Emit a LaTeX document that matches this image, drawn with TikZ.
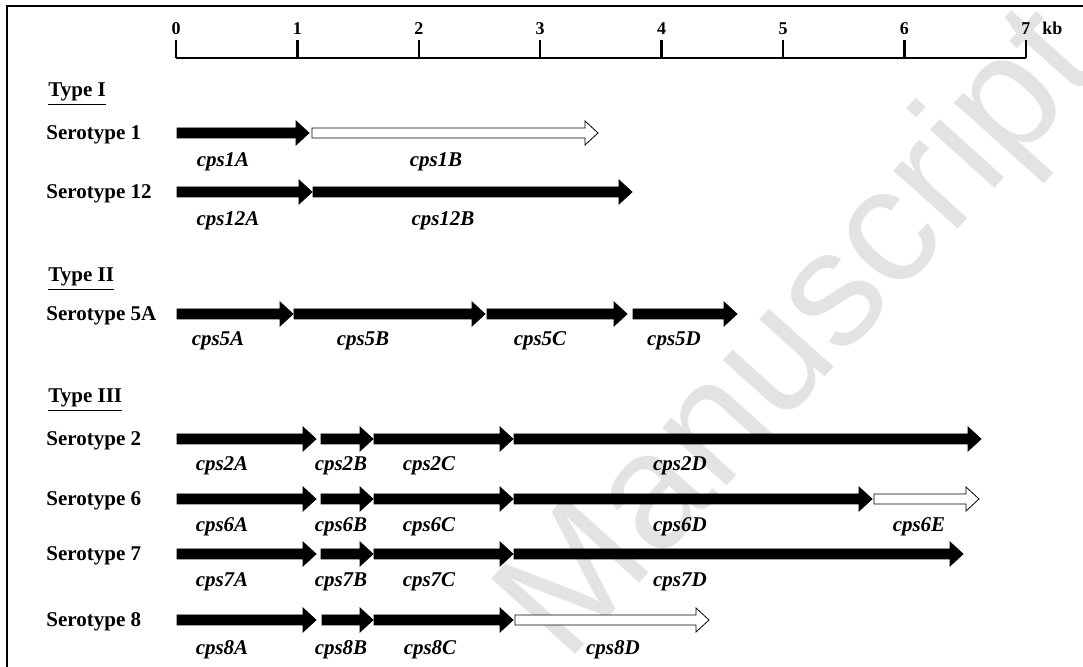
\documentclass[tikz,border=0pt]{standalone}
\usepackage{fontspec}
\setmainfont{Liberation Serif}
\newfontfamily\wmfont{Liberation Sans}
\usepackage{tikz}
\usetikzlibrary{positioning}
% one gene as a block arrow: fill, start, tip, row
\newcommand{\genearrow}[4]{%
  \filldraw[fill=#1,draw=black,line width=0.4pt]
    (#2,#4-5) -- (#3-13,#4-5) -- (#3-13,#4-12) -- (#3,#4)
    -- (#3-13,#4+12) -- (#3-13,#4+5) -- (#2,#4+5) -- cycle;}

\begin{document}
\begin{tikzpicture}[x=0.5pt,y=-0.5pt,
    txt/.style={font=\fontsize{10.5}{12}\selectfont\bfseries,inner sep=0pt,anchor=base west},
    cps/.style={font=\fontsize{10.5}{12}\selectfont\bfseries\itshape,inner sep=0pt,anchor=base},
    num/.style={font=\fontsize{9}{10}\selectfont\bfseries,inner sep=0pt,anchor=base}]
  \useasboundingbox (0,0) rectangle (1083,667);
  \node[rotate=48,anchor=base,text=black!11,inner sep=0pt,
        font=\wmfont\fontsize{82}{90}\selectfont] (wm) at (835,366) {Manuscript};
  \draw[line width=1.2pt] (7,667) -- (7,6) -- (1083,6);
  % scale
  \draw[line width=1.2pt] (176,58) -- (1026,58);
  \foreach \k in {0,...,7}{
    \draw[line width=1.2pt] (176+121.4*\k,40) -- (176+121.4*\k,58);
    \node[num] (t\k) at (176+121.4*\k,35) {\k};}
  \node[num,anchor=base west] (kb) at (1042,35) {kb};

  % type I
  \node[txt] (T1) at (48,97) {\underline{Type I}};
  \node[txt] (S1) at (46,140) {Serotype 1};
  \genearrow{black}{177}{309}{133}
  \genearrow{white}{312}{598}{133}
  \node[cps] (cps1A) at (223,167) {cps1A};
  \node[cps] (cps1B) at (436,167) {cps1B};
  \node[txt] (S12) at (46,199) {Serotype 12};
  \genearrow{black}{177}{312}{192}
  \genearrow{black}{313}{632}{192}
  \node[cps] (cps12A) at (228,226) {cps12A};
  \node[cps] (cps12B) at (443,226) {cps12B};

  % type II
  \node[txt] (T2) at (48,282) {\underline{Type II}};
  \node[txt] (S5A) at (46,321) {Serotype 5A};
  \genearrow{black}{177}{293}{314}
  \genearrow{black}{294}{485}{314}
  \genearrow{black}{487}{627}{314}
  \genearrow{black}{633}{737}{314}
  \node[cps] (cps5A) at (218,346) {cps5A};
  \node[cps] (cps5B) at (363,346) {cps5B};
  \node[cps] (cps5C) at (540,346) {cps5C};
  \node[cps] (cps5D) at (674,346) {cps5D};

  % type III
  \node[txt] (T3) at (48,403) {\underline{Type III}};
  \node[txt] (S2) at (46,446) {Serotype 2};
  \genearrow{black}{177}{316}{439}
  \genearrow{black}{321}{373}{439}
  \genearrow{black}{374}{513}{439}
  \genearrow{black}{514}{981}{439}
  \node[cps] (cps2A) at (222,471) {cps2A};
  \node[cps] (cps2B) at (341,471) {cps2B};
  \node[cps] (cps2C) at (429,471) {cps2C};
  \node[cps] (cps2D) at (680,471) {cps2D};

  \node[txt] (S6) at (46,506) {Serotype 6};
  \genearrow{black}{177}{316}{499}
  \genearrow{black}{321}{373}{499}
  \genearrow{black}{374}{513}{499}
  \genearrow{black}{514}{872}{499}
  \genearrow{white}{874}{979}{499}
  \node[cps] (cps6A) at (222,532) {cps6A};
  \node[cps] (cps6B) at (341,532) {cps6B};
  \node[cps] (cps6C) at (429,532) {cps6C};
  \node[cps] (cps6D) at (680,532) {cps6D};
  \node[cps] (cps6E) at (919,532) {cps6E};

  \node[txt] (S7) at (46,561) {Serotype 7};
  \genearrow{black}{177}{316}{554}
  \genearrow{black}{321}{373}{554}
  \genearrow{black}{374}{513}{554}
  \genearrow{black}{514}{963}{554}
  \node[cps] (cps7A) at (222,587) {cps7A};
  \node[cps] (cps7B) at (341,587) {cps7B};
  \node[cps] (cps7C) at (429,587) {cps7C};
  \node[cps] (cps7D) at (680,587) {cps7D};

  \node[txt] (S8) at (46,627) {Serotype 8};
  \genearrow{black}{177}{316}{620}
  \genearrow{black}{322}{373}{620}
  \genearrow{black}{374}{513}{620}
  \genearrow{white}{515}{709}{620}
  \node[cps] (cps8A) at (222,655) {cps8A};
  \node[cps] (cps8B) at (341,655) {cps8B};
  \node[cps] (cps8C) at (430,655) {cps8C};
  \node[cps] (cps8D) at (613,655) {cps8D};
\end{tikzpicture}
\end{document}
